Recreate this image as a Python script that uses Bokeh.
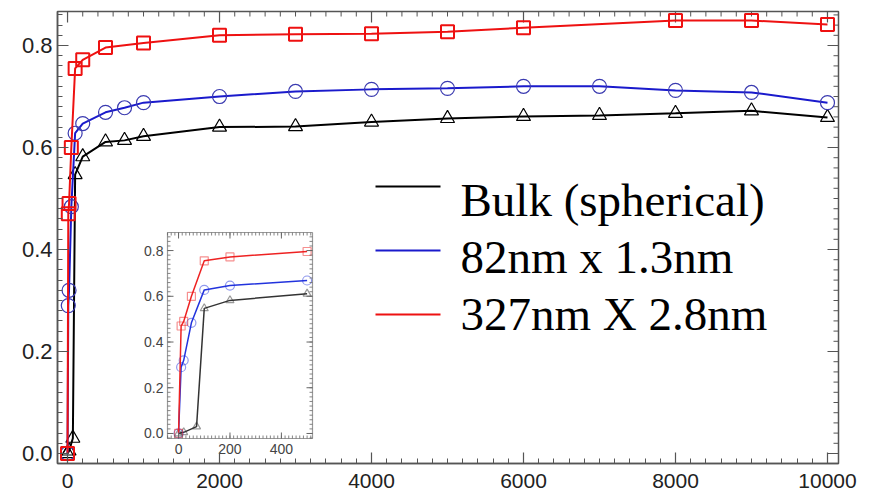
import numpy as np
from bokeh.plotting import figure
from bokeh.models import Range1d, SingleIntervalTicker, PrintfTickFormatter
from bokeh.embed import file_html
from bokeh.resources import INLINE
from bokeh.core.properties import value

# ---------------- data ----------------
time_bulk = [0, 20, 70, 100, 200, 500, 750, 1000, 2000, 3000, 4000, 5000, 6000, 7000, 8000, 9000, 10000]
frac_bulk = [0.0, 0.005, 0.03, 0.547, 0.582, 0.611, 0.614, 0.622, 0.640, 0.641, 0.650, 0.657, 0.661, 0.663, 0.667, 0.672, 0.659]

time_82 = [0, 10, 20, 50, 100, 200, 500, 750, 1000, 2000, 3000, 4000, 5000, 6000, 7000, 8000, 9000, 10000]
frac_82 = [0.0, 0.29, 0.32, 0.484, 0.628, 0.647, 0.669, 0.678, 0.688, 0.700, 0.710, 0.714, 0.716, 0.720, 0.720, 0.712, 0.708, 0.688]

time_327 = [0, 10, 20, 50, 100, 200, 500, 1000, 2000, 3000, 4000, 5000, 6000, 8000, 9000, 10000]
frac_327 = [0.0, 0.47, 0.49, 0.60, 0.755, 0.772, 0.796, 0.805, 0.820, 0.822, 0.823, 0.827, 0.835, 0.849, 0.849, 0.841]

series_labels = ["Bulk (spherical)", "82nm x 1.3nm", "327nm X 2.8nm"]

main_xlim = (-132, 10145)
main_ylim = (-0.0196, 0.8667)
x_major, x_minor = 2000, 200
y_major, y_minor = 0.2, 0.02

inset_xmax_data = 500
inset_xlim = (-43, 521)
inset_ylim = (-0.022, 0.879)
inset_xticks = [0, 200, 400]
inset_yticks = [0.0, 0.2, 0.4, 0.6, 0.8]

# ---------------- layout (pixels) ----------------
W, H = 862, 491
FL, FT = 57, 11            # frame left / top
FRX, FBY = 838, 463        # frame right / bottom
FR, FB = W - FRX, H - FBY
FW, FH = FRX - FL, FBY - FT

# inset box in page pixels
IL, IR, IT, IB = 167, 312, 232, 438

xs = (main_xlim[1] - main_xlim[0]) / FW     # data units per pixel
ys = (main_ylim[1] - main_ylim[0]) / FH

def px2x(px):
    return main_xlim[0] + (px - FL) * xs

def px2y(py):
    return main_ylim[1] - (py - FT) * ys

isx = (inset_xlim[1] - inset_xlim[0]) / (IR - IL)
isy = (inset_ylim[1] - inset_ylim[0]) / (IB - IT)
ix_range = Range1d(inset_xlim[0] - (IL - FL) * isx, inset_xlim[1] + (FRX - IR) * isx)
iy_range = Range1d(inset_ylim[0] - (FBY - IB) * isy, inset_ylim[1] + (IT - FT) * isy)

p = figure(width=W, height=H, x_range=Range1d(*main_xlim), y_range=Range1d(*main_ylim),
           output_backend="svg", toolbar_location=None,
           min_border_left=FL, min_border_right=FR, min_border_top=FT, min_border_bottom=FB)
p.extra_x_ranges = {"ix": ix_range}
p.extra_y_ranges = {"iy": iy_range}
p.grid.visible = False
p.outline_line_color = "#555555"
p.outline_line_width = 1.5

AX_COL = "#555555"
MAJ_LEN, MIN_LEN = 11, 5

def style_axis(ax, ticker, fmt, size, standoff):
    ax.ticker = ticker
    ax.formatter = fmt
    ax.major_tick_in = MAJ_LEN
    ax.major_tick_out = 0
    ax.minor_tick_in = MIN_LEN
    ax.minor_tick_out = 0
    ax.axis_line_color = AX_COL
    ax.axis_line_width = 1.5
    ax.major_tick_line_color = AX_COL
    ax.minor_tick_line_color = AX_COL
    ax.major_tick_line_width = 1.2
    ax.minor_tick_line_width = 1.0
    ax.major_label_text_font = "Liberation Sans"
    ax.major_label_text_color = "#222222"
    ax.major_label_text_font_size = size
    ax.major_label_standoff = standoff

style_axis(p.xaxis[0], SingleIntervalTicker(interval=x_major, num_minor_ticks=10),
           PrintfTickFormatter(format="%d"), "21px", 10)
style_axis(p.yaxis[0], SingleIntervalTicker(interval=y_major, num_minor_ticks=10),
           PrintfTickFormatter(format="%.1f"), "22px", 5)

# mirrored inward ticks on the top and right edges
top_minor = np.arange(0, main_xlim[1], x_minor)
top_major = np.arange(0, main_xlim[1], x_major)
right_minor = np.arange(0, main_ylim[1], y_minor)
right_major = np.arange(0, main_ylim[1], y_major)
for tv, ln, w in [(top_minor, MIN_LEN, 1.0), (top_major, MAJ_LEN, 1.2)]:
    n = len(tv)
    p.segment(x0=tv, x1=tv, y0=[main_ylim[1]] * n, y1=[main_ylim[1] - ln * ys] * n,
              line_color=AX_COL, line_width=w)
for tv, ln, w in [(right_minor, MIN_LEN, 1.0), (right_major, MAJ_LEN, 1.2)]:
    n = len(tv)
    p.segment(y0=tv, y1=tv, x0=[main_xlim[1]] * n, x1=[main_xlim[1] - ln * xs] * n,
              line_color=AX_COL, line_width=w)

# ---------------- main series ----------------
C_BLACK, C_BLUE, C_RED = "#000000", "#1a1acc", "#ee1111"

p.line(time_bulk, frac_bulk, line_color=C_BLACK, line_width=2)
p.scatter(time_bulk, frac_bulk, marker="triangle", size=14, fill_alpha=0,
          line_color=C_BLACK, line_width=1.2)

p.line(time_82, frac_82, line_color=C_BLUE, line_width=2)
p.scatter(time_82, frac_82, marker="circle", size=14, fill_alpha=0,
          line_color="#3a3ab0", line_width=1.2)

p.line(time_327, frac_327, line_color=C_RED, line_width=2)
p.scatter(time_327, frac_327, marker="square", size=13, fill_alpha=0,
          line_color=C_RED, line_width=2)

# ---------------- inset ----------------
IK = dict(x_range_name="ix", y_range_name="iy")
p.quad(left=[inset_xlim[0]], right=[inset_xlim[1]], bottom=[inset_ylim[0]], top=[inset_ylim[1]],
       fill_color="white", line_color="#999999", line_width=1.2, **IK)

def sub(t, f):
    pairs = [(a, b) for a, b in zip(t, f) if a <= inset_xmax_data]
    return [a for a, _ in pairs], [b for _, b in pairs]

for t, f, lc, mk, msz in [(time_bulk, frac_bulk, "#333333", "triangle", 8),
                          (time_82, frac_82, "#2233dd", "circle", 9),
                          (time_327, frac_327, "#ee2222", "square", 8)]:
    tx, fy = sub(t, f)
    p.line(tx, fy, line_color=lc, line_width=1.5, **IK)
    p.scatter(tx, fy, marker=mk, size=msz, fill_alpha=0, line_color=lc,
              line_alpha=0.5, line_width=1.2, **IK)

TK = "#666666"
xmin_ticks = [k * 200 / 14 for k in range(-3, 40)]
xmin_ticks = [v for v in xmin_ticks if inset_xlim[0] < v < inset_xlim[1]]
ymin_ticks = [k * 0.02 for k in range(-1, 45)]
ymin_ticks = [v for v in ymin_ticks if inset_ylim[0] < v < inset_ylim[1]]

for ticks, ln, w in [(xmin_ticks, 3 * isy, 0.8), (inset_xticks, 6 * isy, 1.0)]:
    n = len(ticks)
    p.segment(x0=ticks, x1=ticks, y0=[inset_ylim[0]] * n, y1=[inset_ylim[0] + ln] * n,
              line_color=TK, line_width=w, **IK)
    p.segment(x0=ticks, x1=ticks, y0=[inset_ylim[1]] * n, y1=[inset_ylim[1] - ln] * n,
              line_color=TK, line_width=w, **IK)
for ticks, ln, w in [(ymin_ticks, 3 * isx, 0.8), (inset_yticks, 6 * isx, 1.0)]:
    n = len(ticks)
    p.segment(y0=ticks, y1=ticks, x0=[inset_xlim[0]] * n, x1=[inset_xlim[0] + ln] * n,
              line_color=TK, line_width=w, **IK)
    p.segment(y0=ticks, y1=ticks, x0=[inset_xlim[1]] * n, x1=[inset_xlim[1] - ln] * n,
              line_color=TK, line_width=w, **IK)

p.text(x=inset_xticks, y=[inset_ylim[0]] * len(inset_xticks), text=[str(v) for v in inset_xticks],
       text_font=value("Liberation Sans"), text_font_size="14px", text_color="#444444",
       text_align="center", text_baseline="top", y_offset=5, **IK)
p.text(x=[inset_xlim[0]] * len(inset_yticks), y=inset_yticks, text=["%.1f" % v for v in inset_yticks],
       text_font=value("Liberation Sans"), text_font_size="14px", text_color="#444444",
       text_align="right", text_baseline="middle", x_offset=-4, **IK)

# ---------------- legend (lines + serif labels) ----------------
leg_colors = [C_BLACK, C_BLUE, C_RED]
leg_text_py = [199, 256, 313]      # baselines, page px (corrected for SVG baseline offset)
leg_line_py = [186, 250, 314]
leg_x0, leg_x1, leg_tx = 375, 440, 460

p.segment(x0=[px2x(leg_x0)] * 3, x1=[px2x(leg_x1)] * 3,
          y0=[px2y(v) for v in leg_line_py], y1=[px2y(v) for v in leg_line_py],
          line_color=leg_colors, line_width=2)
p.text(x=[px2x(leg_tx)] * 3, y=[px2y(v) for v in leg_text_py], text=series_labels,
       text_font=value("Liberation Serif"), text_font_size="47px", text_color="#000000",
       text_align="left", text_baseline="alphabetic")

open("out.html", "w").write(file_html(p, INLINE))
